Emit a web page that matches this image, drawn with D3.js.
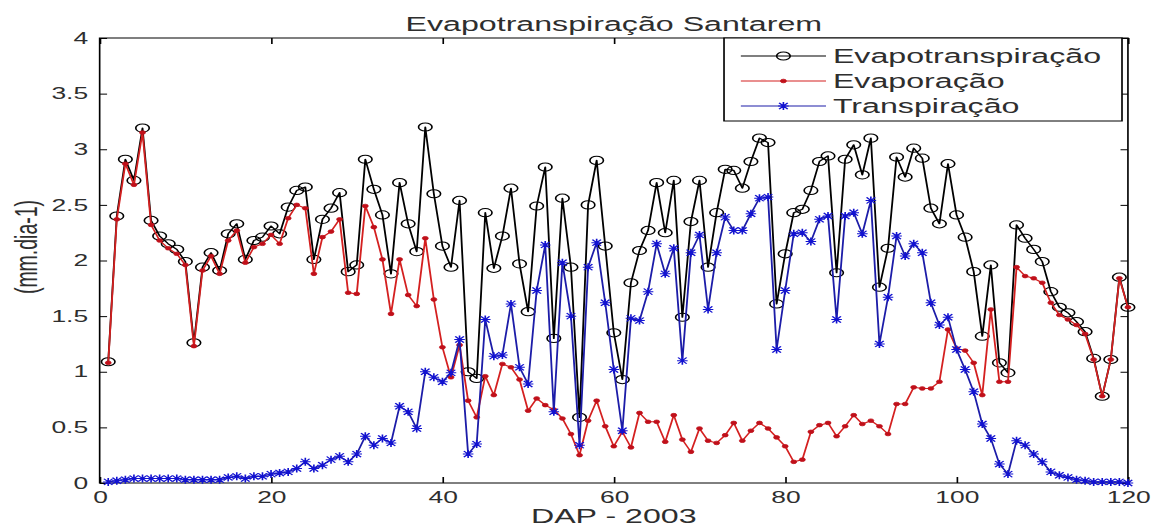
<!DOCTYPE html>
<html>
<head>
<meta charset="utf-8">
<script src="https://cdn.jsdelivr.net/npm/d3@7"></script>
<style>
  html, body { margin: 0; padding: 0; background: #fff; overflow: hidden; }
  svg { display: block; }
  text { font-family: "Liberation Sans", Arial, Helvetica, sans-serif; fill: #2e2e2e; }
</style>
</head>
<body>
<svg id="chart"></svg>
<script>
// Days after planting (DAP), 2003
const dap = d3.range(1, 121);

// Evapotranspiração (mm.dia-1)
const evapotranspiracao = [
  1.09, 2.40, 2.91, 2.72, 3.19, 2.36, 2.22, 2.15, 2.10, 1.99,
  1.26, 1.94, 2.07, 1.91, 2.24, 2.33, 2.01, 2.18, 2.21, 2.31,
  2.24, 2.48, 2.63, 2.66, 2.01, 2.37, 2.47, 2.61, 1.90, 1.96,
  2.91, 2.64, 2.41, 1.88, 2.70, 2.33, 2.08, 3.20, 2.60, 2.13,
  1.94, 2.54, 1.00, 0.94, 2.43, 1.93, 2.22, 2.65, 1.97, 1.54,
  2.49, 2.84, 1.30, 2.56, 1.94, 0.59, 2.50, 2.90, 2.13, 1.35,
  0.93, 1.80, 2.09, 2.27, 2.70, 2.25, 2.72, 1.49, 2.35, 2.72,
  1.94, 2.43, 2.82, 2.81, 2.65, 2.89, 3.10, 3.06, 1.61, 2.06,
  2.43, 2.46, 2.63, 2.89, 2.94, 1.89, 2.91, 3.04, 2.77, 3.10,
  1.76, 2.11, 2.93, 2.75, 3.01, 2.92, 2.47, 2.33, 2.87, 2.41,
  2.21, 1.90, 1.32, 1.96, 1.08, 0.99, 2.32, 2.20, 2.10, 1.99,
  1.72, 1.58, 1.53, 1.45, 1.36, 1.12, 0.78, 1.11, 1.85, 1.58
];

// Evaporação (mm.dia-1)
const evaporacao = [
  1.08, 2.37, 2.87, 2.68, 3.15, 2.32, 2.18, 2.11, 2.06, 1.96,
  1.23, 1.91, 2.04, 1.88, 2.18, 2.27, 1.98, 2.12, 2.15, 2.23,
  2.15, 2.38, 2.50, 2.47, 1.88, 2.21, 2.26, 2.37, 1.71, 1.70,
  2.49, 2.30, 2.01, 1.52, 2.01, 1.69, 1.59, 2.20, 1.65, 1.22,
  0.95, 1.24, 0.74, 0.59, 0.96, 0.79, 1.07, 1.04, 0.93, 0.65,
  0.76, 0.70, 0.66, 0.58, 0.44, 0.25, 0.56, 0.74, 0.51, 0.33,
  0.46, 0.32, 0.63, 0.55, 0.55, 0.37, 0.61, 0.39, 0.28, 0.49,
  0.38, 0.36, 0.43, 0.54, 0.38, 0.47, 0.54, 0.49, 0.41, 0.33,
  0.19, 0.21, 0.46, 0.52, 0.54, 0.42, 0.51, 0.61, 0.53, 0.56,
  0.51, 0.44, 0.71, 0.71, 0.86, 0.85, 0.85, 0.91, 1.38, 1.21,
  1.19, 1.08, 0.79, 1.56, 0.91, 0.91, 1.94, 1.86, 1.84, 1.80,
  1.62, 1.51, 1.47, 1.42, 1.34, 1.11, 0.78, 1.11, 1.84, 1.58
];

// Transpiração (mm.dia-1)
const transpiracao = [
  0.01, 0.02, 0.03, 0.04, 0.04, 0.04, 0.04, 0.04, 0.04, 0.03,
  0.03, 0.03, 0.03, 0.03, 0.05, 0.06, 0.04, 0.06, 0.06, 0.08,
  0.09, 0.10, 0.13, 0.19, 0.13, 0.16, 0.21, 0.24, 0.19, 0.26,
  0.42, 0.34, 0.40, 0.36, 0.69, 0.64, 0.49, 1.00, 0.95, 0.91,
  0.99, 1.29, 0.26, 0.35, 1.47, 1.14, 1.15, 1.61, 1.04, 0.89,
  1.73, 2.14, 0.64, 1.98, 1.50, 0.34, 1.94, 2.16, 1.62, 1.02,
  0.47, 1.48, 1.46, 1.72, 2.15, 1.88, 2.11, 1.10, 2.07, 2.23,
  1.56, 2.07, 2.39, 2.27, 2.27, 2.42, 2.56, 2.57, 1.20, 1.73,
  2.24, 2.25, 2.17, 2.37, 2.40, 1.47, 2.40, 2.43, 2.24, 2.54,
  1.25, 1.67, 2.22, 2.04, 2.15, 2.07, 1.62, 1.42, 1.49, 1.20,
  1.02, 0.82, 0.53, 0.40, 0.17, 0.08, 0.38, 0.34, 0.26, 0.19,
  0.10, 0.07, 0.05, 0.03, 0.02, 0.01, 0.01, 0.01, 0.01, 0.00
];

const xTicks = [0, 20, 40, 60, 80, 100, 120];
const yTicks = [0, 0.5, 1, 1.5, 2, 2.5, 3, 3.5, 4];
const seriesNames = ["Evapotranspiração", "Evaporação", "Transpiração"];

// The figure is laid out in a narrower user space and stretched horizontally
const WIDTH = 1151, HEIGHT = 530, SX = 1.65;
const VW = WIDTH / SX;

const plot = { left: 60.4, right: 683.6, top: 38, bottom: 483 };

const svg = d3.select("#chart")
  .attr("width", WIDTH)
  .attr("height", HEIGHT)
  .attr("viewBox", `0 0 ${VW} ${HEIGHT}`)
  .attr("preserveAspectRatio", "none");

svg.append("rect").attr("x", 0).attr("y", 0).attr("width", VW).attr("height", HEIGHT).attr("fill", "#fff");

const x = d3.scaleLinear().domain([0, 120]).range([plot.left, plot.right]);
const y = d3.scaleLinear().domain([0, 4]).range([plot.bottom, plot.top]);

// Axes with inward ticks on all four sides
const axisStyle = g => {
  g.select(".domain").remove();
  g.selectAll(".tick line").attr("stroke", "#000").attr("stroke-width", 1);
  g.selectAll(".tick text").attr("fill", "#2e2e2e").style("font-size", "16px");
};

svg.append("g")
  .attr("transform", `translate(0,${plot.bottom})`)
  .call(d3.axisBottom(x).tickValues(xTicks).tickFormat(d3.format("d"))
    .tickSizeInner(-6).tickSizeOuter(0).tickPadding(8.6))
  .call(axisStyle);

svg.append("g")
  .attr("transform", `translate(${plot.left},0)`)
  .call(d3.axisLeft(y).tickValues(yTicks).tickFormat(d => String(d))
    .tickSizeInner(-4.5).tickSizeOuter(0).tickPadding(7))
  .call(axisStyle);

svg.append("g")
  .attr("transform", `translate(0,${plot.top})`)
  .call(d3.axisTop(x).tickValues(xTicks).tickFormat("").tickSizeInner(-6).tickSizeOuter(0))
  .call(axisStyle);

svg.append("g")
  .attr("transform", `translate(${plot.right},0)`)
  .call(d3.axisRight(y).tickValues(yTicks).tickFormat("").tickSizeInner(-4.5).tickSizeOuter(0))
  .call(axisStyle);

// Plot frame
svg.append("rect")
  .attr("x", plot.left).attr("y", plot.top)
  .attr("width", plot.right - plot.left).attr("height", plot.bottom - plot.top)
  .attr("fill", "none").attr("stroke", "#000").attr("stroke-width", 1);

const line = d3.line().x(d => x(d.day)).y(d => y(d.v));
const toPoints = vals => dap.map((day, i) => ({ day, v: vals[i] }));

const starPath = "M0,-4V4M-3.2,0H3.2M-2.6,-3.1L2.6,3.1M-2.6,3.1L2.6,-3.1";

const styles = [
  { vals: evapotranspiracao, line: "#000", marker: "circle", mcolor: "#000" },
  { vals: evaporacao, line: "#d42020", marker: "dot", mcolor: "#c0101a" },
  { vals: transpiracao, line: "#1c1ca8", marker: "star", mcolor: "#1212d0" }
];

function drawMarker(sel, kind, color) {
  if (kind === "circle") {
    sel.append("circle").attr("r", 4.1).attr("fill", "none").attr("stroke", color).attr("stroke-width", 1);
  } else if (kind === "dot") {
    sel.append("circle").attr("r", 1.8).attr("fill", color).attr("stroke", color).attr("stroke-width", 0.6);
  } else {
    sel.append("path").attr("d", starPath).attr("fill", "none").attr("stroke", color).attr("stroke-width", 1);
  }
}

styles.forEach(s => {
  const pts = toPoints(s.vals);
  const g = svg.append("g");
  g.append("path")
    .datum(pts)
    .attr("d", line)
    .attr("fill", "none")
    .attr("stroke", s.line)
    .attr("stroke-width", 1.1)
    .attr("stroke-linejoin", "round");
  g.selectAll("g.m")
    .data(pts)
    .join("g")
    .attr("class", "m")
    .attr("transform", d => `translate(${x(d.day)},${y(d.v)})`)
    .each(function () { drawMarker(d3.select(this), s.marker, s.mcolor); });
});

// Title and axis labels
const cx = (plot.left + plot.right) / 2;
svg.append("text").attr("x", cx).attr("y", 31.5).attr("text-anchor", "middle")
  .style("font-size", "19.5px").text("Evapotranspiração Santarem");
svg.append("text").attr("x", cx).attr("y", 523).attr("text-anchor", "middle")
  .style("font-size", "19.5px").text("DAP - 2003");
svg.append("text")
  .attr("transform", "translate(16.4,247) rotate(-90)")
  .attr("text-anchor", "middle").attr("dy", "0.32em")
  .style("font-size", "19.5px").text("(mm.dia-1)");

// Legend
const lg = svg.append("g");
lg.append("rect").attr("x", 438.8).attr("y", 38).attr("width", 241.2).attr("height", 83)
  .attr("fill", "#fff").attr("stroke", "#000").attr("stroke-width", 1);
const rowY = [56, 81, 106];
seriesNames.forEach((name, i) => {
  const s = styles[i];
  lg.append("line").attr("x1", 449).attr("x2", 500.6).attr("y1", rowY[i]).attr("y2", rowY[i])
    .attr("stroke", s.line).attr("stroke-width", 1.1);
  const m = lg.append("g").attr("transform", `translate(474.8,${rowY[i]})`);
  drawMarker(m, s.marker, s.mcolor);
  lg.append("text").attr("x", 504.8).attr("y", rowY[i] + 7.2)
    .style("font-size", "19.5px").text(name);
});
</script>
</body>
</html>
